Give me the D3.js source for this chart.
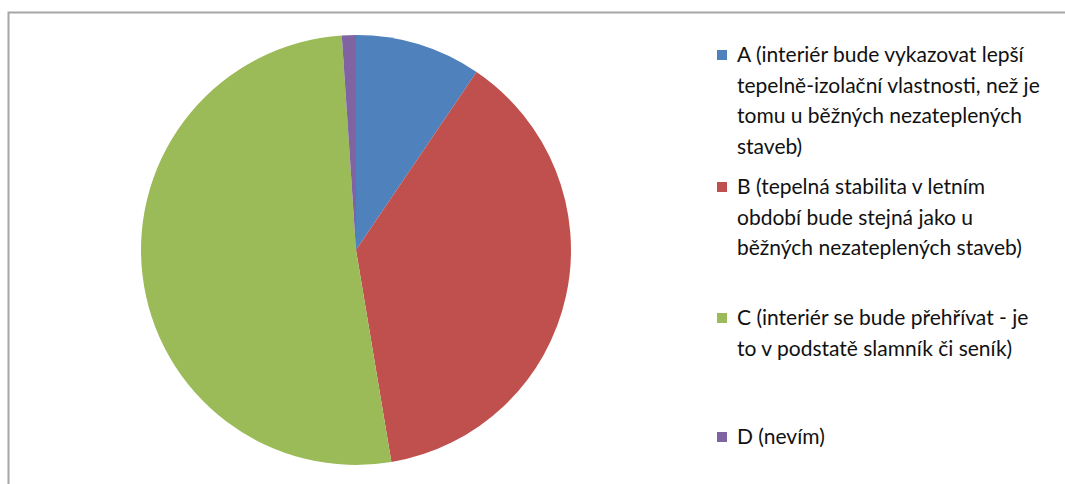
<!DOCTYPE html>
<html>
<head>
<meta charset="utf-8">
<script src="https://cdn.jsdelivr.net/npm/d3@7"></script>
<style>
  html, body { margin: 0; padding: 0; background: #fff; }
  svg { display: block; }
  .legend text { font-family: Lato, "Open Sans", sans-serif; font-size: 21px; fill: #111; }
</style>
</head>
<body>
<svg id="chart" width="1065" height="484"></svg>
<script>
// Answer categories, response counts and slice colours
const categories = ["A", "B", "C", "D"];
const values = [9, 36, 49, 1];
const colors = ["#4F81BD", "#C0504D", "#9BBB59", "#8064A2"];
// Legend text, one entry per category, already wrapped into lines
const legendLines = [
  ["A (interiér bude vykazovat lepší", "tepelně-izolační vlastnosti, než je", "tomu u běžných nezateplených", "staveb)"],
  ["B (tepelná stabilita v letním", "období bude stejná jako u", "běžných nezateplených staveb)"],
  ["C (interiér se bude přehřívat - je", "to v podstatě slamník či seník)"],
  ["D (nevím)"]
];

const svg = d3.select("#chart");
const W = 1065, H = 484;

// Chart area frame
svg.append("rect")
  .attr("x", 8.5).attr("y", 12.5)
  .attr("width", W + 20).attr("height", H + 20)
  .attr("fill", "#fff")
  .attr("stroke", "#a6a6a6").attr("stroke-width", 2);

const cx = 356, cy = 250, r = 215;
const color = d3.scaleOrdinal().domain(categories).range(colors);

const pie = d3.pie().sort(null).value(d => d.value);
const arc = d3.arc().innerRadius(0).outerRadius(r);
const data = categories.map((c, i) => ({ cat: c, value: values[i] }));

svg.append("g")
  .attr("transform", `translate(${cx},${cy})`)
  .selectAll("path")
  .data(pie(data))
  .join("path")
  .attr("d", arc)
  .attr("fill", d => color(d.data.cat));

// Legend
const legendTop = [55, 187, 318, 437];
const lineH = 30.5;
const lx = 717, tx = 737;
const lg = svg.append("g").attr("class", "legend");
categories.forEach((c, i) => {
  const g = lg.append("g");
  g.append("rect")
    .attr("x", lx).attr("y", legendTop[i] - 5)
    .attr("width", 10).attr("height", 10)
    .attr("fill", color(c));
  legendLines[i].forEach((t, j) => {
    g.append("text")
      .attr("x", tx)
      .attr("y", legendTop[i] + j * lineH)
      .attr("dy", "0.35em")
      .text(t);
  });
});
</script>
</body>
</html>
